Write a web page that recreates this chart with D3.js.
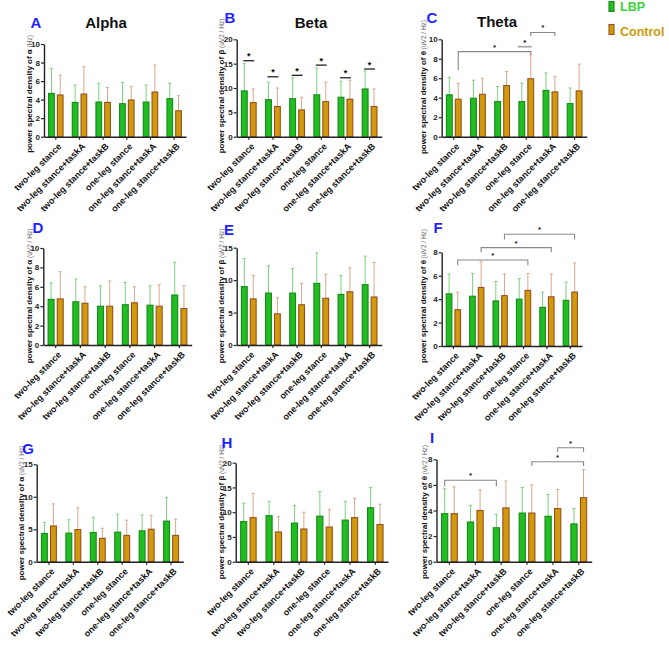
<!DOCTYPE html>
<html>
<head>
<meta charset="utf-8">
<script src="https://cdn.jsdelivr.net/npm/d3@7"></script>
<style>
body { margin: 0; background: #fff; }
text { font-family: Arial, "Liberation Sans", sans-serif; }
</style>
</head>
<body>
<svg width="669" height="645"></svg>
<script>
var categories = ["two-leg stance", "two-leg stance+taskA", "two-leg stance+taskB",
                  "one-leg stance", "one-leg stance+taskA", "one-leg stance+taskB"];

// bar means and the top end of each error bar, LBP and Control
var aLbp = [4.67, 3.7, 3.74, 3.56, 3.74, 4.1];
var aLbpTop = [7.35, 5.57, 5.75, 5.86, 5.57, 5.75];
var aCtl = [4.5, 4.6, 3.7, 3.96, 4.82, 2.8];
var aCtlTop = [6.63, 7.55, 5.3, 5.43, 7.73, 4.42];

var bLbp = [9.4, 7.6, 7.8, 8.6, 8.1, 9.8];
var bLbpTop = [15.0, 11.2, 12.1, 14.1, 11.4, 13.5];
var bCtl = [7.0, 6.2, 5.5, 7.2, 7.7, 6.2];
var bCtlTop = [9.8, 10.0, 8.1, 11.2, 11.6, 9.8];
var bSig = [15.6, 12.3, 12.6, 14.7, 12.1, 13.9];

var cLbp = [4.3, 3.95, 3.6, 3.6, 4.75, 3.4];
var cLbpTop = [6.1, 5.8, 5.15, 5.5, 6.55, 5.0];
var cCtl = [3.85, 4.35, 5.25, 5.95, 4.6, 4.7];
var cCtlTop = [5.45, 6.0, 6.7, 8.4, 6.2, 7.45];

var dLbp = [4.7, 4.45, 4.0, 4.15, 4.1, 5.15];
var dLbpTop = [6.4, 6.8, 6.1, 6.45, 6.1, 8.5];
var dCtl = [4.75, 4.3, 4.0, 4.35, 4.0, 3.75];
var dCtlTop = [7.55, 6.0, 6.6, 6.0, 6.2, 6.1];

var eLbp = [9.0, 8.0, 8.0, 9.5, 7.8, 9.3];
var eLbpTop = [13.3, 12.2, 11.8, 14.2, 10.7, 13.7];
var eCtl = [7.1, 4.8, 6.2, 7.2, 8.2, 7.4];
var eCtlTop = [10.7, 7.3, 9.5, 10.9, 11.9, 12.7];

var fLbp = [4.45, 4.25, 3.85, 4.0, 3.3, 3.9];
var fLbpTop = [6.15, 6.2, 5.5, 5.75, 4.6, 5.45];
var fCtl = [3.1, 5.0, 4.3, 4.75, 4.2, 4.6];
var fCtlTop = [4.6, 7.2, 6.15, 6.2, 6.15, 7.1];

var gLbp = [4.35, 4.4, 4.5, 4.55, 4.75, 6.25];
var gLbpTop = [6.05, 6.45, 6.85, 7.3, 7.2, 9.9];
var gCtl = [5.5, 4.95, 3.6, 4.05, 5.0, 4.05];
var gCtlTop = [8.9, 8.3, 5.15, 6.4, 7.15, 6.55];

var hLbp = [8.1, 9.3, 7.8, 9.2, 8.4, 10.9];
var hLbpTop = [11.8, 12.2, 11.4, 14.2, 12.2, 15.0];
var hCtl = [8.9, 6.0, 6.6, 7.0, 8.9, 7.5];
var hCtlTop = [13.8, 9.1, 10.0, 10.6, 12.8, 11.6];

var iLbp = [3.75, 3.1, 2.65, 3.8, 3.55, 2.95];
var iLbpTop = [5.7, 4.4, 3.7, 5.8, 5.25, 4.15];
var iCtl = [3.75, 4.0, 4.2, 3.8, 4.15, 5.0];
var iCtlTop = [5.85, 5.6, 6.3, 6.0, 5.65, 7.2];

// significance brackets: [group, series] -> [group, series], bar height, leg ends
var cBrackets = [
  {a: 0, as: "ctl", b: 3, bs: "ctl", y: 8.73, legA: 6.85, legB: 8.45},
  {a: 3, as: "ctl", b: 4, bs: "ctl", y: 10.7, legA: 10.35, legB: 10.35}
];
var cShort = [{g: 3, y: 9.24}];
var fBrackets = [
  {a: 0, as: "ctl", b: 3, bs: "ctl", y: 7.34, legA: 6.9, legB: 6.9},
  {a: 1, as: "ctl", b: 4, bs: "ctl", y: 8.4, legA: 8.0, legB: 8.0},
  {a: 2, as: "ctl", b: 5, bs: "ctl", y: 9.54, legA: 9.1, legB: 9.1}
];
var iBrackets = [
  {a: 0, as: "lbp", b: 2, bs: "lbp", y: 6.36, legA: 5.9, legB: 5.9},
  {a: 3, as: "ctl", b: 5, bs: "ctl", y: 7.81, legA: 7.48, legB: 7.48},
  {a: 4, as: "ctl", b: 5, bs: "ctl", y: 8.9, legA: 8.57, legB: 8.57}
];

var GREEN = "#22bd22", GREEN_LINE = "#148a14", GREEN_ERR = "#7fd07f";
var GOLD = "#d19a0c", GOLD_LINE = "#96501c", GOLD_ERR = "#d8a98c";

var svg = d3.select("svg");

var panels = [
  {id: "A", title: "Alpha", sym: "α", unit: " (Hz)", lbp: aLbp, lbpTop: aLbpTop, ctl: aCtl, ctlTop: aCtlTop,
   max: 10, step: 2, x0: 44, x1: 186, yT: 44, yB: 136.7, lx: 26, ly: 94, letter: [36, 28], tpos: [106, 28]},
  {id: "B", title: "Beta", sym: "β", unit: " (uV2 / Hz)", lbp: bLbp, lbpTop: bLbpTop, ctl: bCtl, ctlTop: bCtlTop,
   max: 20, step: 5, x0: 236.7, x1: 381.7, yT: 39.3, yB: 136.7, lx: 218, ly: 86, letter: [230, 23], tpos: [311, 28],
   sig: bSig},
  {id: "C", title: "Theta", sym: "θ", unit: " (uV2 / Hz)", lbp: cLbp, lbpTop: cLbpTop, ctl: cCtl, ctlTop: cCtlTop,
   max: 10, step: 2, x0: 441.7, x1: 586.7, yT: 39.3, yB: 136.7, lx: 420, ly: 87, letter: [432, 23], tpos: [497, 27],
   brackets: cBrackets, shortSig: cShort},
  {id: "D", sym: "α", unit: " (uV2 / Hz)", lbp: dLbp, lbpTop: dLbpTop, ctl: dCtl, ctlTop: dCtlTop,
   max: 10, step: 2, x0: 43.3, x1: 191.7, yT: 248, yB: 345, lx: 26, ly: 296, letter: [38, 233]},
  {id: "E", sym: "β", unit: " (uV2 / Hz)", lbp: eLbp, lbpTop: eLbpTop, ctl: eCtl, ctlTop: eCtlTop,
   max: 15, step: 5, x0: 236.7, x1: 381.7, yT: 247.7, yB: 345, lx: 218, ly: 296, letter: [229, 235]},
  {id: "F", sym: "θ", unit: " (uV2 / Hz)", lbp: fLbp, lbpTop: fLbpTop, ctl: fCtl, ctlTop: fCtlTop,
   max: 8, step: 2, x0: 441.7, x1: 582, yT: 252.3, yB: 346, lx: 420, ly: 296, letter: [438, 233],
   brackets: fBrackets},
  {id: "G", sym: "α", unit: " (uV2 / Hz)", lbp: gLbp, lbpTop: gLbpTop, ctl: gCtl, ctlTop: gCtlTop,
   max: 15, step: 5, x0: 36.7, x1: 183.3, yT: 464.3, yB: 561.7, lx: 18, ly: 513, letter: [28, 454]},
  {id: "H", sym: "β", unit: " (uV2 / Hz)", lbp: hLbp, lbpTop: hLbpTop, ctl: hCtl, ctlTop: hCtlTop,
   max: 20, step: 5, x0: 235.7, x1: 388, yT: 462.7, yB: 561.7, lx: 218, ly: 512, letter: [227, 448]},
  {id: "I", sym: "θ", unit: " (uV2 / Hz)", lbp: iLbp, lbpTop: iLbpTop, ctl: iCtl, ctlTop: iCtlTop,
   max: 8, step: 2, x0: 436.5, x1: 591.7, yT: 459.3, yB: 561.7, lx: 421, ly: 512, letter: [432, 443],
   brackets: iBrackets}
];

panels.forEach(drawPanel);

function drawPanel(p) {
  var g = svg.append("g").attr("class", "panel");
  var x = d3.scaleBand().domain(categories).range([p.x0, p.x1]);
  var y = d3.scaleLinear().domain([0, p.max]).range([p.yB, p.yT]);
  var bw = x.bandwidth(), w = bw * 0.24, gap = bw * 0.13;

  function cx(i, s) {
    var c = x(categories[i]) + bw / 2;
    return s == "lbp" ? c - gap / 2 - w / 2 : c + gap / 2 + w / 2;
  }

  var series = [
    {key: "lbp", vals: p.lbp, tops: p.lbpTop, fill: GREEN, line: GREEN_LINE, err: GREEN_ERR},
    {key: "ctl", vals: p.ctl, tops: p.ctlTop, fill: GOLD, line: GOLD_LINE, err: GOLD_ERR}
  ];

  series.forEach(function(s) {
    var idx = d3.range(categories.length);
    // upper error bars
    g.selectAll(".err-" + s.key).data(idx).enter().append("path")
      .attr("d", function(i) {
        var c = cx(i, s.key);
        return "M" + c + "," + y(s.vals[i]) + "V" + y(s.tops[i]) + "M" + (c - 1.6) + "," + y(s.tops[i]) + "H" + (c + 1.6);
      })
      .attr("fill", "none").attr("stroke", s.err).attr("stroke-width", 1);
    // bars
    g.selectAll(".bar-" + s.key).data(idx).enter().append("rect")
      .attr("x", function(i) { return cx(i, s.key) - w / 2; })
      .attr("y", function(i) { return y(s.vals[i]); })
      .attr("width", w)
      .attr("height", function(i) { return y(0) - y(s.vals[i]); })
      .attr("fill", s.fill).attr("stroke", s.line).attr("stroke-width", 1.1);
  });

  // axes
  var ya = g.append("g").attr("transform", "translate(" + p.x0 + ",0)")
    .call(d3.axisLeft(y).tickValues(d3.range(0, p.max + p.step / 2, p.step)).tickSize(3).tickSizeOuter(0));
  ya.select(".domain").attr("stroke", "#222").attr("stroke-width", 1.4);
  ya.selectAll(".tick line").attr("stroke", "#222").attr("stroke-width", 1.2);
  ya.selectAll(".tick text").attr("x", -4).style("font-size", "8px").style("font-weight", "bold").attr("fill", "#222");

  var xa = g.append("g").attr("transform", "translate(0," + p.yB + ")")
    .call(d3.axisBottom(x).tickSize(3).tickSizeOuter(0));
  xa.select(".domain").attr("stroke", "#222").attr("stroke-width", 1.4);
  xa.selectAll(".tick line").attr("stroke", "#222").attr("stroke-width", 1.2);
  xa.selectAll(".tick text")
    .attr("x", 0).attr("y", 0).attr("dy", "0.35em")
    .attr("transform", "translate(4,8) rotate(-45)")
    .style("text-anchor", "end").style("font-size", "9px").style("font-weight", "bold").attr("fill", "#111");

  // y label
  var lab = g.append("text")
    .attr("transform", "translate(" + p.lx + "," + p.ly + ") rotate(-90)")
    .attr("text-anchor", "middle").attr("dy", "0.35em");
  lab.append("tspan").text("power spectral density of " + p.sym)
    .style("font-size", "8px").style("font-weight", "bold").attr("fill", "#111");
  lab.append("tspan").text(p.unit).style("font-size", "6.5px").attr("fill", "#666");

  // panel letter and title
  g.append("text").attr("x", p.letter[0]).attr("y", p.letter[1]).attr("text-anchor", "middle")
    .style("font-size", "15px").style("font-weight", "bold").attr("fill", "#1f1fff").text(p.id);
  if (p.title) {
    g.append("text").attr("x", p.tpos[0]).attr("y", p.tpos[1]).attr("text-anchor", "middle")
      .style("font-size", "15px").style("font-weight", "bold").attr("fill", "#111").text(p.title);
  }

  // short significance lines over single groups
  if (p.sig) {
    p.sig.forEach(function(v, i) {
      g.append("line").attr("x1", cx(i, "lbp") - 1).attr("x2", cx(i, "ctl") + 1)
        .attr("y1", y(v)).attr("y2", y(v)).attr("stroke", "#222").attr("stroke-width", 1.3);
      g.append("text").attr("x", (cx(i, "lbp") + cx(i, "ctl")) / 2).attr("y", y(v) - 1.5)
        .attr("text-anchor", "middle").style("font-size", "9px").style("font-weight", "bold").text("*");
    });
  }
  if (p.shortSig) {
    p.shortSig.forEach(function(d) {
      g.append("line").attr("x1", cx(d.g, "lbp") - 4).attr("x2", cx(d.g, "ctl") + 1)
        .attr("y1", y(d.y)).attr("y2", y(d.y)).attr("stroke", "#aaa").attr("stroke-width", 1.8);
      g.append("text").attr("x", (cx(d.g, "lbp") + cx(d.g, "ctl")) / 2 - 1.5).attr("y", y(d.y) - 2)
        .attr("text-anchor", "middle").style("font-size", "8px").style("font-weight", "bold").text("*");
    });
  }
  if (p.brackets) {
    p.brackets.forEach(function(d) {
      var xa1 = cx(d.a, d.as), xb1 = cx(d.b, d.bs);
      g.append("path")
        .attr("d", "M" + xa1 + "," + y(d.legA) + "V" + y(d.y) + "H" + xb1 + "V" + y(d.legB))
        .attr("fill", "none").attr("stroke", "#888").attr("stroke-width", 1.1);
      g.append("text").attr("x", (xa1 + xb1) / 2).attr("y", y(d.y) - 2)
        .attr("text-anchor", "middle").style("font-size", "8px").style("font-weight", "bold").attr("fill", "#222").text("*");
    });
  }
}

// legend
var legend = [{name: "LBP", fill: GREEN, line: GREEN_LINE, text: "#3ad43a"},
              {name: "Control", fill: GOLD, line: GOLD_LINE, text: "#cf9a0a"}];
var lg = svg.append("g").attr("class", "legend");
lg.selectAll("rect").data(legend).enter().append("rect")
  .attr("x", 609).attr("y", function(d, i) { return 1.5 + i * 23; })
  .attr("width", 5).attr("height", 10)
  .attr("fill", function(d) { return d.fill; }).attr("stroke", function(d) { return d.line; }).attr("stroke-width", 1.1);
lg.selectAll("text").data(legend).enter().append("text")
  .attr("x", 620).attr("y", function(d, i) { return 11 + i * 24.5; })
  .style("font-size", "12.5px").style("font-weight", "bold")
  .attr("fill", function(d) { return d.text; }).text(function(d) { return d.name; });
</script>
</body>
</html>
